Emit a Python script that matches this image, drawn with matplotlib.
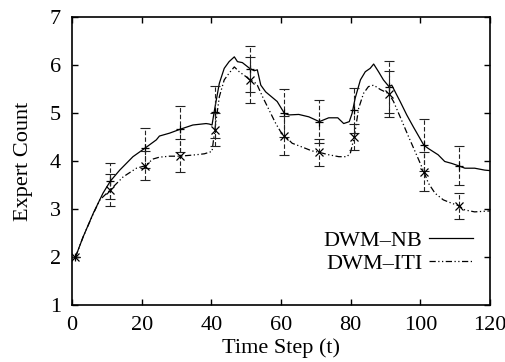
import matplotlib
matplotlib.use('Agg')
import matplotlib.pyplot as plt

plt.rcParams['font.family'] = ['Liberation Serif', 'DejaVu Serif']
plt.rcParams['font.size'] = 16

# DWM-NB curve (solid)
nb_t = [1, 3.2, 6.1, 8.9, 11, 13.7, 17.5, 21, 24.2, 25.1, 28, 31, 34.7, 38.5, 39.4, 40.2,
        40.9, 42.3, 43.7, 45.1, 46.6, 47.5, 48.9, 51, 52.3, 53.2, 54.2, 55.6, 58.9, 61,
        62.3, 65.1, 68, 71, 73.7, 76.3, 78, 79.6, 80.4, 81.3, 82.8, 84.2, 85.6, 86.6, 88,
        89.4, 91, 91.8, 93.2, 94.2, 96.1, 98, 99.9, 101, 102.3, 105.1, 107, 109, 111,
        112.8, 115.6, 118.5, 120]
nb_v = [2.0, 2.42, 2.91, 3.33, 3.58, 3.81, 4.09, 4.27, 4.44, 4.52, 4.58, 4.66, 4.75, 4.78, 4.77, 4.75,
        5.06, 5.62, 5.93, 6.07, 6.17, 6.07, 6.05, 5.93, 5.88, 5.90, 5.58, 5.44, 5.24, 4.99,
        4.96, 4.97, 4.92, 4.82, 4.90, 4.90, 4.78, 4.82, 4.99, 5.31, 5.69, 5.86, 5.93, 6.02, 5.86,
        5.69, 5.55, 5.58, 5.38, 5.24, 4.96, 4.71, 4.47, 4.33, 4.26, 4.13, 3.99, 3.95, 3.90,
        3.85, 3.85, 3.81, 3.80]

# DWM-ITI curve (dash-dot-dot)
iti_t = [1, 3.2, 6.1, 8, 11, 14.7, 18.5, 21, 23.2, 25.1, 28, 31, 35.6, 38, 40.2, 41,
         42.3, 43.7, 45.1, 46.6, 48, 49.9, 51, 52.3, 53.2, 54.7, 56.6, 58.5, 59.9, 61,
         63.2, 66.1, 68.9, 71, 73.7, 76.6, 78.9, 79.9, 81, 82.3, 83.7, 85.1, 86.6, 88.5,
         89.9, 91, 92.3, 94.2, 96.6, 98.9, 101, 102.3, 104.2, 106.6, 109, 111, 112.8,
         115.6, 120]
iti_v = [2.0, 2.42, 2.90, 3.19, 3.40, 3.67, 3.85, 3.90, 4.04, 4.08, 4.10, 4.10, 4.13, 4.15, 4.20, 4.65,
         5.34, 5.69, 5.83, 5.96, 5.86, 5.76, 5.69, 5.65, 5.58, 5.34, 5.06, 4.78, 4.61, 4.53,
         4.37, 4.29, 4.21, 4.18, 4.13, 4.09, 4.09, 4.16, 4.49, 5.10, 5.41, 5.55, 5.58, 5.49,
         5.44, 5.40, 5.24, 4.92, 4.51, 4.13, 3.78, 3.54, 3.33, 3.19, 3.12, 3.07, 2.98,
         2.94, 2.96]

# error bar samples
err_t = [1, 11, 21, 31, 41, 51, 61, 71, 81, 91, 101, 111]
nb_mean = [2.0, 3.58, 4.27, 4.66, 5.02, 5.92, 5.0, 4.82, 5.06, 5.55, 4.33, 3.90]
nb_err = [0, 0.38, 0.42, 0.48, 0.54, 0.48, 0.51, 0.45, 0.47, 0.54, 0.54, 0.41]
iti_mean = [2.0, 3.40, 3.90, 4.11, 4.65, 5.69, 4.53, 4.18, 4.50, 5.40, 3.78, 3.07]
iti_err = [0, 0.33, 0.30, 0.34, 0.34, 0.48, 0.40, 0.28, 0.27, 0.48, 0.40, 0.27]

fig = plt.figure(figsize=(5.06, 3.62), dpi=100)
ax = fig.add_axes([72/506, 57/362, 418/506, 288/362])

ax.plot(nb_t, nb_v, color='black', lw=0.9, label='DWM\u2013NB')
ax.plot(iti_t, iti_v, color='black', lw=0.9, dashes=[5, 2, 1, 2, 1, 2], label='DWM\u2013ITI')

for m, e, mk in [(nb_mean, nb_err, '+'), (iti_mean, iti_err, 'x')]:
    eb = ax.errorbar(err_t, m, yerr=e, fmt='none', ecolor='#222222', elinewidth=0.8,
                     capsize=3.5, capthick=0.8)
    for lc in eb[2]:
        lc.set_linestyle((0, (4, 2)))
    ax.plot(err_t, m, linestyle='none', marker=mk, color='black', ms=5.5, mew=0.9)

ax.set_xlim(0, 120)
ax.set_ylim(1, 7)
ax.set_xticks(range(0, 121, 20))
ax.set_yticks(range(1, 8))
ax.tick_params(direction='in', top=True, right=True, length=4.5, width=1, pad=8)
for s in ax.spines.values():
    s.set_linewidth(1.2)

ax.set_xlabel('Time Step (t)', labelpad=2)
ax.set_ylabel('Expert Count', labelpad=12)

ax.legend(loc='center right', bbox_to_anchor=(0.96, 0.184), frameon=False,
          markerfirst=False, handlelength=2.0, handletextpad=0.3, borderpad=0,
          borderaxespad=0, labelspacing=0.1, fontsize=16)

fig.savefig('out.png', dpi=100)
